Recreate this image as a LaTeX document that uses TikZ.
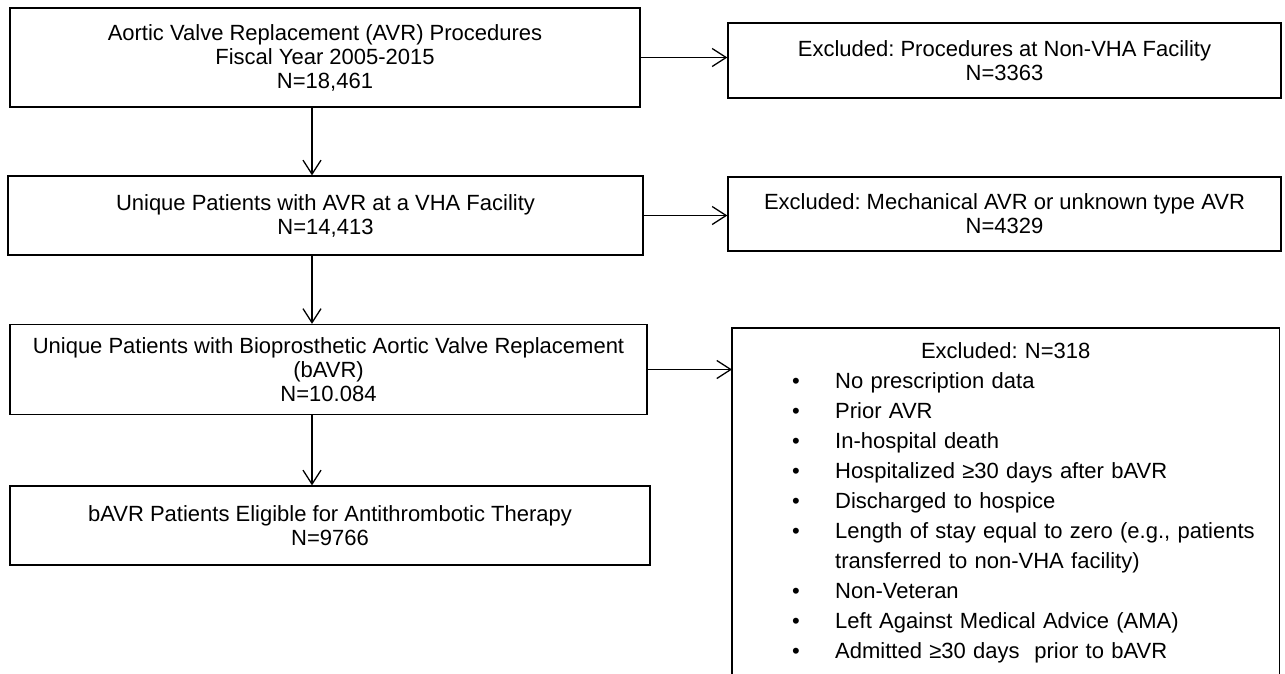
\documentclass[tikz,border=0pt]{standalone}
\usepackage{fontspec}
\setmainfont{Liberation Sans}
\usetikzlibrary{arrows.meta}
\setlength{\parindent}{0pt}
\setlength{\parskip}{0pt}
\frenchspacing

\newcommand{\exitem}[1]{\par\hspace*{60pt}\makebox[43pt][l]{\textbullet}#1}
\newcommand{\excont}[1]{\par\hspace*{103pt}#1}

\begin{document}
\begin{tikzpicture}[x=1pt, y=-1pt,
  box/.style={draw, line width=1.3pt, align=center, inner sep=0pt, font=\fontsize{22}{24}\selectfont},
  flow/.style={-{Straight Barb[length=14pt,width=18pt]}, line width=1.3pt}]
\path[use as bounding box, clip] (0,0) rectangle (1285,673);
\fill[white] (0,0) rectangle (1285,673);

\coordinate (AVR) at (325,57.5);
\coordinate (VHA) at (325.5,215.5);
\coordinate (BAVR) at (328.5,369.5);
\coordinate (ELIG) at (330,525.5);
\coordinate (EX1) at (1004.5,60.5);
\coordinate (EX2) at (1004.5,214);
\coordinate (EX3) at (732,328);
\coordinate (SPINE) at (312,0);
\coordinate (CUT) at (0,690);

\node[box, minimum width=630pt, minimum height=99pt] (avr) at (AVR)
  {Aortic Valve Replacement (AVR) Procedures\\Fiscal Year 2005-2015\\N=18,461};
\node[box, minimum width=635pt, minimum height=79pt] (vha) at (VHA)
  {Unique Patients with AVR at a VHA Facility\\N=14,413};
\node[box, minimum width=637pt, minimum height=90pt] (bavr) at (BAVR)
  {Unique Patients with Bioprosthetic Aortic Valve Replacement\\(bAVR)\\N=10.084};
\node[box, minimum width=640pt, minimum height=79pt] (elig) at (ELIG)
  {bAVR Patients Eligible for Antithrombotic Therapy\\N=9766};

\node[box, minimum width=553pt, minimum height=75pt] (exnonvha) at (EX1)
  {Excluded: Procedures at Non-VHA Facility\\N=3363};
\node[box, minimum width=553pt, minimum height=74pt] (exmech) at (EX2)
  {Excluded: Mechanical AVR or unknown type AVR\\N=4329};

\node[anchor=north west, text width=547pt, align=left, inner xsep=0pt, inner ysep=14pt,
  font=\fontsize{22}{30}\selectfont] (exlist) at (EX3)
  {\centerline{Excluded: N=318}%
   \exitem{No prescription data}
   \exitem{Prior AVR}
   \exitem{In-hospital death}
   \exitem{Hospitalized ≥30 days after bAVR}
   \exitem{Discharged to hospice}
   \exitem{Length of stay equal to zero (e.g., patients}
   \excont{transferred to non-VHA facility)}
   \exitem{Non-Veteran}
   \exitem{Left Against Medical Advice (AMA)}
   \exitem{Admitted ≥30 days\ \ prior to bAVR}\par};
\draw[line width=1.3pt] (exlist.north west |- CUT) -- (exlist.north west)
  -- (exlist.north east) -- (exlist.north east |- CUT);

\draw[flow] (avr.south -| SPINE) -- (vha.north -| SPINE);
\draw[flow] (vha.south -| SPINE) -- (bavr.north -| SPINE);
\draw[flow] (bavr.south -| SPINE) -- (elig.north -| SPINE);

\draw[flow] (avr.east) -- (avr.east -| exnonvha.west);
\draw[flow] (vha.east) -- (vha.east -| exmech.west);
\draw[flow] (bavr.east) -- (bavr.east -| exlist.west);
\end{tikzpicture}
\end{document}
